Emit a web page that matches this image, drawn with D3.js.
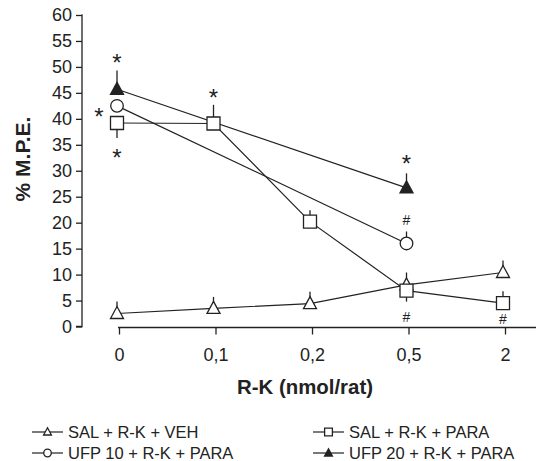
<!DOCTYPE html>
<html><head><meta charset="utf-8">
<script src="https://cdn.jsdelivr.net/npm/d3@7"></script>
<style>body{margin:0;background:#fff}svg{display:block;font-family:"Liberation Sans",Arial,sans-serif}</style>
</head><body><svg id="c" width="536" height="461"></svg>
<script>
const categories = ["0","0,1","0,2","0,5","2"];
const yTicks = [0,5,10,15,20,25,30,35,40,45,50,55,60];
const salVeh   = [2.5, 3.5, 4.4, 8.0, 10.4];
const salVehErr= [2.3, 2.2, 2.3, 2.4, 2.3];
const salPara   = [39.2, 39.1, 20.2, 6.9, 4.5];
const salParaErr= [-2.9, 3.6, 2.2, -2.1, 2.3];
const ufp10    = [42.5, null, null, 16.0, null];
const ufp10Err = [0, null, null, 2.3, null];
const ufp20    = [45.7, null, null, 26.7, null];
const ufp20Err = [3.6, null, null, 2.8, null];
const notes = [
  {cat:"0", v:51.7, t:"*", dx:0},
  {cat:"0", v:41.3, t:"*", dx:-18},
  {cat:"0", v:33.4, t:"*", dx:0},
  {cat:"0,1", v:45.0, t:"*", dx:0},
  {cat:"0,5", v:32.3, t:"*", dx:0},
  {cat:"0,5", v:20.5, t:"#", dx:0},
  {cat:"0,5", v:1.9, t:"#", dx:0},
  {cat:"2", v:1.4, t:"#", dx:0}
];
const seriesNames = ["SAL + R-K + VEH","SAL + R-K + PARA","UFP 10 + R-K + PARA","UFP 20 + R-K + PARA"];

const svg = d3.select("#c");
const ink = "#222";
const x = d3.scalePoint().domain(categories).range([117, 503]);
const y = d3.scaleLinear().domain([0,60]).range([326.5, 15]);

const ya = svg.append("g").attr("transform","translate(82,0)")
  .call(d3.axisLeft(y).tickValues(yTicks).tickSize(6).tickPadding(4));
ya.select(".domain").attr("d","M-0.5,"+y(60)+"H0V"+y(0)+"H-6").attr("stroke",ink).attr("stroke-width",1.3);
ya.selectAll(".tick line").attr("stroke",ink).attr("stroke-width",1.3);
ya.selectAll(".tick text").attr("font-size",18).attr("fill",ink).attr("font-family","Liberation Sans, Arial, sans-serif");

const xa = svg.append("g").attr("transform","translate(2,327.5)")
  .call(d3.axisBottom(x).tickSize(7).tickPadding(14));
xa.select(".domain").attr("d","M116,0H536").attr("stroke",ink).attr("stroke-width",1.3);
xa.selectAll(".tick line").attr("stroke",ink).attr("stroke-width",1.3);
xa.selectAll(".tick text").attr("font-size",18).attr("fill",ink).attr("font-family","Liberation Sans, Arial, sans-serif");

svg.append("text").attr("x",305).attr("y",394).attr("text-anchor","middle")
  .attr("font-size",20.4).attr("font-weight","bold").attr("fill",ink).text("R-K (nmol/rat)");
svg.append("text").attr("transform","translate(30,159) rotate(-90)").attr("text-anchor","middle")
  .attr("font-size",21).attr("font-weight","bold").attr("fill",ink).text("% M.P.E.");

const triPath = s => `M0,${-7*s}L${6.5*s},${5*s}L${-6.5*s},${5*s}Z`;
const sqPath = s => `M${-6.5*s},${-6.5*s}h${13*s}v${13*s}h${-13*s}Z`;
function marker(g, kind, s){
  if(kind==="circle") return g.append("circle").attr("r",6.3*s).attr("fill","#fff").attr("stroke",ink).attr("stroke-width",1.3);
  if(kind==="square") return g.append("path").attr("d",sqPath(s)).attr("fill","#fff").attr("stroke",ink).attr("stroke-width",1.3);
  if(kind==="tri") return g.append("path").attr("d",triPath(s)).attr("fill","#fff").attr("stroke",ink).attr("stroke-width",1.3);
  return g.append("path").attr("d",triPath(s)).attr("fill",ink).attr("stroke",ink).attr("stroke-width",1.3);
}
const series = [
  {vals:salVeh, err:salVehErr, kind:"tri"},
  {vals:salPara, err:salParaErr, kind:"square"},
  {vals:ufp10, err:ufp10Err, kind:"circle"},
  {vals:ufp20, err:ufp20Err, kind:"filled"}
];
const line = d3.line().x(d=>x(d.c)).y(d=>y(d.v));
series.forEach(s=>{
  const pts = categories.map((c,i)=>({c, v:s.vals[i]})).filter(d=>d.v!=null);
  svg.append("path").attr("d",line(pts)).attr("fill","none").attr("stroke",ink).attr("stroke-width",1.2);
});
series.forEach(s=>{
  categories.forEach((c,i)=>{
    const v = s.vals[i]; if(v==null) return;
    const e = s.err[i];
    if(e){
      svg.append("line").attr("x1",x(c)).attr("x2",x(c)).attr("y1",y(v)).attr("y2",y(v+e))
        .attr("stroke",ink).attr("stroke-width",1.3);
    }
  });
  categories.forEach((c,i)=>{
    const v = s.vals[i]; if(v==null) return;
    const g = svg.append("g").attr("transform",`translate(${x(c)},${y(v)})`);
    marker(g, s.kind, 1);
  });
});
notes.forEach(n=>{
  if(n.t==="*"){
    svg.append("text").attr("x",x(n.cat)+n.dx).attr("y",y(n.v)+13).attr("text-anchor","middle")
      .attr("font-size",24).attr("fill",ink).text("*");
  } else {
    svg.append("text").attr("x",x(n.cat)).attr("y",y(n.v)+5).attr("text-anchor","middle")
      .attr("font-size",14).attr("fill",ink).text("#");
  }
});
const legPos = [[32,432],[313,432],[32,453],[313,453]];
series.forEach((s,i)=>{
  const [lx,ly] = legPos[i];
  svg.append("line").attr("x1",lx).attr("x2",lx+31).attr("y1",ly).attr("y2",ly).attr("stroke",ink).attr("stroke-width",1.2);
  const g = svg.append("g").attr("transform",`translate(${lx+15.5},${ly})`);
  marker(g, s.kind, 0.6);
  svg.append("text").attr("x",lx+36).attr("y",ly+6).attr("font-size",16.5).attr("fill",ink).text(seriesNames[i]);
});
</script></body></html>
